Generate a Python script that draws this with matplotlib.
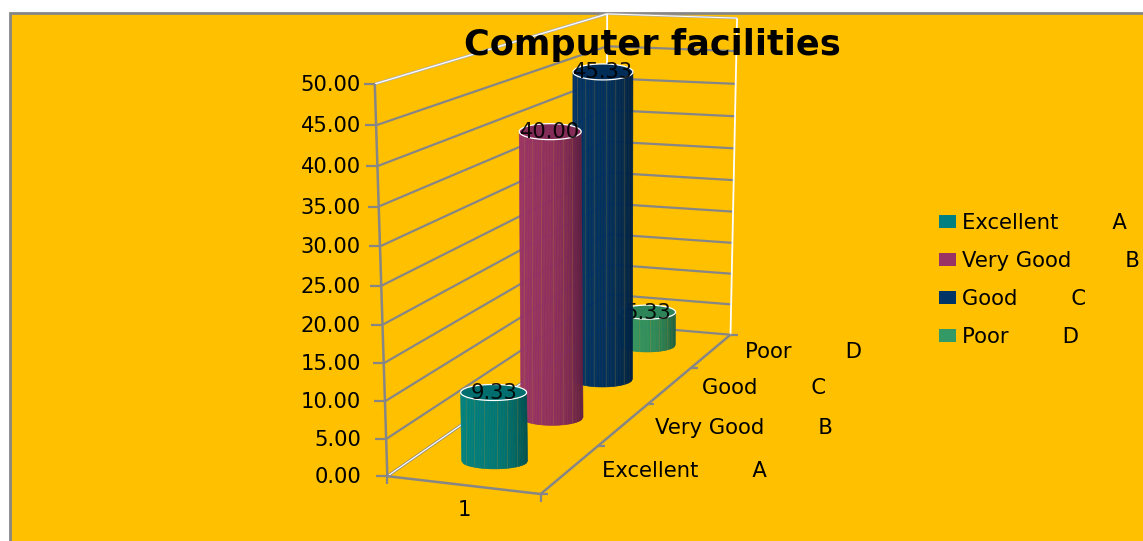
import numpy as np
import matplotlib
matplotlib.use("Agg")
import matplotlib.pyplot as plt
from matplotlib.patches import Rectangle, Patch, Polygon
from matplotlib.collections import PolyCollection

# ---------- data ----------
title = "Computer facilities"
categories = ["Excellent        A", "Very Good        B", "Good        C", "Poor        D"]
values = [9.33, 40.00, 45.33, 5.33]
value_labels = ["9.33", "40.00", "45.33", "5.33"]
y_ticks = [0, 5, 10, 15, 20, 25, 30, 35, 40, 45, 50]
x_label = "1"

# ---------- style ----------
colors = ["#008080", "#993366", "#003366", "#339966"]
half_w = [33, 31, 30, 28]
half_e = [8, 8, 8, 7]
BG = "#FFC000"
GRAY = "#868686"
FS = 15.2

# ---------- perspective scale of the 3D box (x, depth, value) -> pixel ----------
cal_world = np.array([(0, 0, 0), (1, 0, 0), (1, 1, 0), (0, 1, 0), (0, 0, 50), (0, 1, 50),
                      (1, 1, 50), (0, 0, 25), (1, 1, 25)], float)
cal_px = np.array([(387, 476), (541, 494), (730, 335), (607, 324), (375, 84), (607, 14),
                   (737, 18), (381, 286), (734, 180)], float)
A = []
for (X, Y, Z), (u, v) in zip(cal_world, cal_px):
    A.append([X, Y, Z, 1, 0, 0, 0, 0, -u * X, -u * Y, -u * Z, -u])
    A.append([0, 0, 0, 0, X, Y, Z, 1, -v * X, -v * Y, -v * Z, -v])
P = np.linalg.svd(np.array(A))[2][-1].reshape(3, 4)


def proj(x, d, z):
    h = P @ np.array([x, d, z, 1.0])
    return h[0] / h[2], h[1] / h[2]


fig = plt.figure(figsize=(11.43, 5.41), dpi=100, facecolor="white")
ax = fig.add_axes([0, 0, 1, 1])
ax.set_xlim(0, 1143)
ax.set_ylim(541, 0)
ax.axis("off")
ax.add_patch(Rectangle((10, 12.5), 1200, 600, fc=BG, ec=GRAY, lw=2, zorder=0))


def seg(a, b, color=GRAY, lw=1.6, z=1):
    ax.plot([a[0], b[0]], [a[1], b[1]], color=color, lw=lw, zorder=z, solid_capstyle="butt")


# walls: gridlines
for t in y_ticks[1:-1]:
    seg(proj(0, 0, t), proj(0, 1, t))
    seg(proj(0, 1, t), proj(1, 1, t))
# wall outline
seg(proj(0, 0, 50), proj(0, 1, 50), "#B0B0B0", 2.0)
seg(proj(0, 0, 50), proj(0, 1, 50), "white", 0.9)
seg(proj(0, 1, 50), proj(1, 1, 50), "#B0B0B0", 1.6)
seg(proj(0, 1, 50), proj(1, 1, 50), "white", 0.7)
seg(proj(1, 1, 50), proj(1, 1, 0), "white", 1.3)
seg(proj(0, 1, 50), proj(0, 1, 0), "white", 1.3)
seg(proj(0, 0, 0), proj(0, 1, 0), GRAY, 2.0)
seg(proj(0, 0, 0), proj(0, 1, 0), "white", 0.9)
seg(proj(0, 1, 0), proj(1, 1, 0), GRAY, 1.6)
# axes
seg(proj(0, 0, 50), proj(0, 0, 0), GRAY, 1.8, 2)
seg(proj(0, 0, 0), proj(1, 0, 0), GRAY, 1.8, 2)
seg(proj(1, 0, 0), proj(1, 1, 0), GRAY, 1.8, 2)
for t in y_ticks:
    px, py = proj(0, 0, t)
    seg((px - 11, py), (px, py), GRAY, 1.6, 2)
    ax.text(361, py + 1, f"{t:.2f}", ha="right", va="center", fontsize=FS, color="black", zorder=3)
for d in [0, 0.25, 0.5, 0.75, 1]:
    px, py = proj(1, d, 0)
    seg((px, py), (px + 7, py), GRAY, 1.6, 2)
px, py = proj(1, 0, 0)
seg((px, py), (px, py + 8), GRAY, 1.6, 2)
px, py = proj(0, 0, 0)
seg((px, py), (px, py + 8), GRAY, 1.6, 2)

# category axis labels
label_x = [602, 655, 702, 745]
label_y = [471, 428, 388, 352]
for s, lx, ly in zip(categories, label_x, label_y):
    ax.text(lx, ly, s, ha="left", va="center", fontsize=FS, color="black", zorder=3)
ax.text(464, 510, x_label, ha="center", va="center", fontsize=FS, color="black", zorder=3)


def shade(hex_color, k):
    c = np.array(matplotlib.colors.to_rgb(hex_color))
    return tuple(np.clip(c * k, 0, 1))


# columns, back to front
for i in range(len(values) - 1, -1, -1):
    z0 = 10 + (3 - i) * 3
    d = (i + 0.5) / len(values)
    bx, by = proj(0.5, d, 0)
    tx, ty = proj(0.5, d, values[i])
    w, e = half_w[i], half_e[i]
    n = 40
    edges = np.linspace(-1, 1, n + 1)
    polys, fcs = [], []
    for a, b in zip(edges[:-1], edges[1:]):
        ya, yb = e * np.sqrt(1 - a * a), e * np.sqrt(1 - b * b)
        polys.append([(tx + a * w, ty + ya), (tx + b * w, ty + yb),
                      (bx + b * w, by + yb), (bx + a * w, by + ya)])
        m = (a + b) / 2
        fcs.append(shade(colors[i], 0.93 - 0.08 * m - 0.22 * max(m, 0) ** 2))
    ax.add_collection(PolyCollection(polys, facecolors=fcs, edgecolors="face", linewidths=0.4, zorder=z0))
    for a in [-0.85, -0.6, -0.3, 0.1, 0.4, 0.7]:
        ya = e * np.sqrt(1 - a * a)
        ax.plot([tx + a * w] * 2, [ty + ya, by + ya], color="#B08A30", lw=0.5, alpha=0.35, zorder=z0 + 0.1)
    th = np.linspace(0, 2 * np.pi, 60)
    ax.add_patch(Polygon(np.c_[tx + w * np.cos(th), ty + e * np.sin(th)], closed=True,
                         fc=shade(colors[i], 0.86), ec="white", lw=0.9, zorder=z0 + 0.2))
    ax.text(tx, ty + 0.5, value_labels[i], ha="center", va="center", fontsize=FS,
            color="black", alpha=0.9, zorder=z0 + 0.5)

ax.text(652, 45, title, ha="center", va="center", fontsize=25.3, fontweight="bold", color="black", zorder=25)

handles = [Patch(fc=c, ec="none") for c in colors]
ax.legend(handles, categories, loc="upper left", bbox_to_anchor=(939 / 1143, 1 - 213 / 541),
          frameon=False, fontsize=FS, labelspacing=0.85, handlelength=0.8, handleheight=0.62,
          handletextpad=0.28, borderpad=0, borderaxespad=0)

fig.savefig("out.png", dpi=100, facecolor="white")
